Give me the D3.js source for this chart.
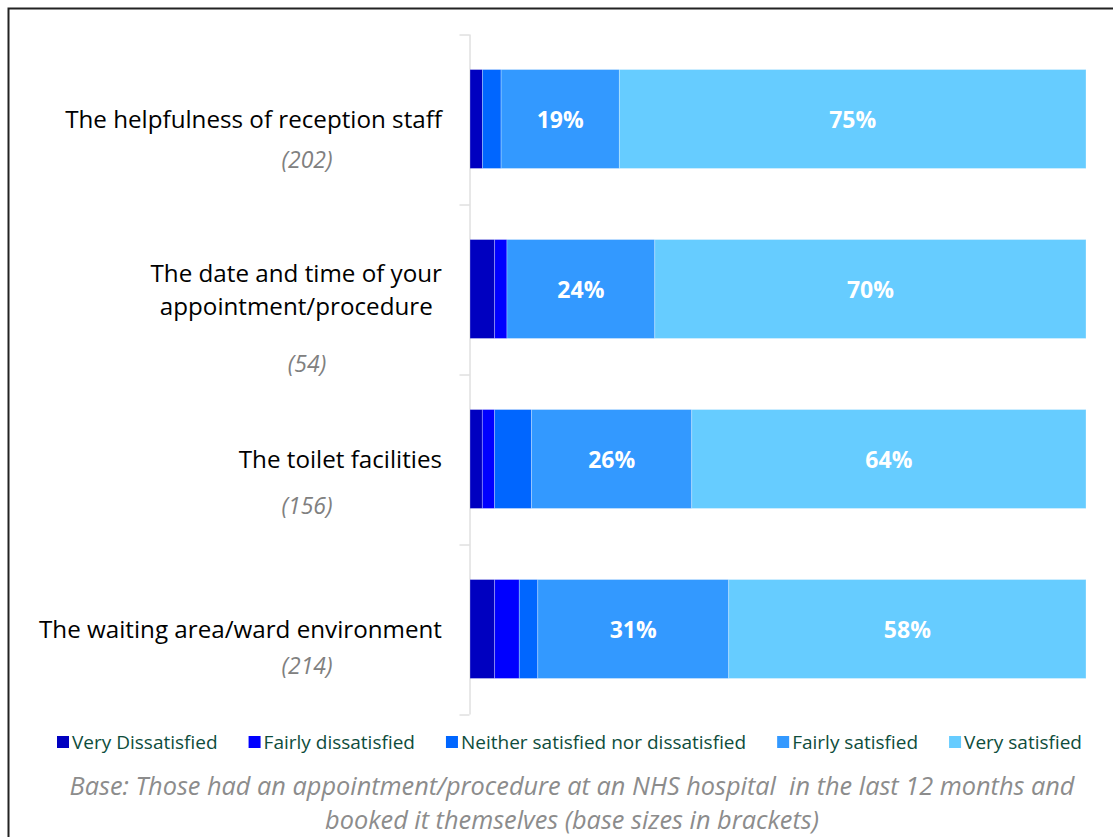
<!DOCTYPE html>
<html>
<head>
<meta charset="utf-8">
<script src="https://cdn.jsdelivr.net/npm/d3@7"></script>
<style>
  body { margin: 0; background: #fff; }
  svg { display: block; font-family: "Open Sans", Lato, sans-serif; }
</style>
</head>
<body>
<div id="chart"></div>
<script>
// 100% stacked satisfaction bars
const categories = [
  "The helpfulness of reception staff",
  "The date and time of your\nappointment/procedure",
  "The toilet facilities",
  "The waiting area/ward environment"
];
const baseSizes = ["(202)", "(54)", "(156)", "(214)"];
const seriesNames = ["Very Dissatisfied", "Fairly dissatisfied", "Neither satisfied nor dissatisfied", "Fairly satisfied", "Very satisfied"];
const veryDissatisfied = [2, 4, 2, 4];
const fairlyDissatisfied = [0, 2, 2, 4];
const neither = [3, 0, 6, 3];
const fairlySatisfied = [19, 24, 26, 31];
const verySatisfied = [75, 70, 64, 58];
const labelledSeries = ["Fairly satisfied", "Very satisfied"];
const footnote = [
  "Base: Those had an appointment/procedure at an NHS hospital  in the last 12 months and",
  "booked it themselves (base sizes in brackets)"
];

const colors = ["#0000C0", "#0000FF", "#0066FF", "#3399FF", "#66CCFF"];
// offset of the base size text below each row's centre (Excel put them unevenly)
const baseOffset = [40, 74, 46, 36];

const width = 1113, height = 837;
const svg = d3.select("#chart").append("svg")
  .attr("width", width).attr("height", height);

// outer frame
svg.append("rect")
  .attr("x", 8.5).attr("y", 8.5)
  .attr("width", width + 20).attr("height", height + 20)
  .attr("fill", "none").attr("stroke", "#222").attr("stroke-width", 2);

const rows = categories.map((c, i) => ({
  cat: c,
  [seriesNames[0]]: veryDissatisfied[i],
  [seriesNames[1]]: fairlyDissatisfied[i],
  [seriesNames[2]]: neither[i],
  [seriesNames[3]]: fairlySatisfied[i],
  [seriesNames[4]]: verySatisfied[i]
}));

const stack = d3.stack().keys(seriesNames).offset(d3.stackOffsetExpand);
const stacked = stack(rows);

const x = d3.scaleLinear().domain([0, 1]).range([470, 1086]);
const y = d3.scaleBand().domain(categories).range([34, 714])
  .paddingInner(0.418).paddingOuter(0.209);
const color = d3.scaleOrdinal().domain(seriesNames).range(colors);

// category axis with tick marks between categories
const yEdge = d3.scaleLinear().domain([0, categories.length]).range([34, 714]);
const axis = svg.append("g")
  .attr("transform", "translate(469.5,0)")
  .call(d3.axisLeft(yEdge).ticks(categories.length).tickFormat("").tickSize(10).tickSizeOuter(0));
axis.select(".domain").attr("stroke", "#D0D0D0");
axis.selectAll(".tick line").attr("stroke", "#D0D0D0").attr("transform", "translate(0,0.5)");

// bars
const layers = svg.append("g").selectAll("g")
  .data(stacked)
  .join("g")
  .attr("fill", d => color(d.key));

layers.selectAll("rect")
  .data(d => d.map(p => ({ key: d.key, p })))
  .join("rect")
  .attr("x", d => x(d.p[0]))
  .attr("y", d => y(d.p.data.cat))
  .attr("width", d => Math.max(0, x(d.p[1]) - x(d.p[0])))
  .attr("height", y.bandwidth())
  .attr("stroke", "rgba(255,255,255,0.35)")
  .attr("stroke-width", d => (d.p[1] - d.p[0]) > 0 ? 0.8 : 0);

// value labels
svg.append("g").selectAll("text")
  .data(stacked.filter(s => labelledSeries.includes(s.key))
    .flatMap(s => s.map(p => ({ key: s.key, p }))))
  .join("text")
  .attr("x", d => (x(d.p[0]) + x(d.p[1])) / 2)
  .attr("y", d => y(d.p.data.cat) + y.bandwidth() / 2 + 1)
  .attr("dy", "0.35em")
  .attr("text-anchor", "middle")
  .attr("fill", "#fff")
  .attr("font-weight", "bold")
  .attr("font-size", 23)
  .text(d => d.p.data[d.key] + "%");

// category labels: block right-aligned, lines centred within the block
const labelRight = 442;
const lineH = 33;
const catG = svg.append("g");
categories.forEach((c, i) => {
  const lines = c.split("\n");
  const cy = y(c) + y.bandwidth() / 2 + 1;
  const t = catG.append("text")
    .attr("font-size", 24.2)
    .attr("fill", "#000")
    .attr("text-anchor", "middle");
  const spans = lines.map((l, j) => t.append("tspan")
    .attr("y", cy + (j - (lines.length - 1) / 2) * lineH)
    .attr("dy", "0.35em")
    .text(l));
  const maxW = d3.max(spans, s => s.node().getComputedTextLength());
  spans.forEach(s => s.attr("x", labelRight - maxW / 2));

  catG.append("text")
    .attr("x", 307)
    .attr("y", cy + baseOffset[i])
    .attr("dy", "0.35em")
    .attr("text-anchor", "middle")
    .attr("font-size", 23)
    .attr("font-style", "italic")
    .attr("fill", "#808080")
    .text(baseSizes[i]);
});

// legend
const legend = svg.append("g").attr("transform", "translate(57,742)");
let lx = 0;
seriesNames.forEach(name => {
  const g = legend.append("g").attr("transform", `translate(${lx},0)`);
  g.append("rect").attr("x", 0).attr("y", -6).attr("width", 12).attr("height", 12)
    .attr("fill", color(name));
  const t = g.append("text").attr("x", 15).attr("dy", "0.35em")
    .attr("font-size", 19).attr("fill", "#0E4D3C").text(name);
  lx += 15 + t.node().getComputedTextLength() + 31;
});

// footnote
svg.append("g").selectAll("text")
  .data(footnote)
  .join("text")
  .attr("x", 572)
  .attr("y", (d, i) => 786 + i * 34)
  .attr("dy", "0.35em")
  .attr("text-anchor", "middle")
  .attr("font-size", 25.3)
  .attr("font-style", "italic")
  .attr("fill", "#8C8C8C")
  .style("white-space", "pre")
  .text(d => d);
</script>
</body>
</html>
